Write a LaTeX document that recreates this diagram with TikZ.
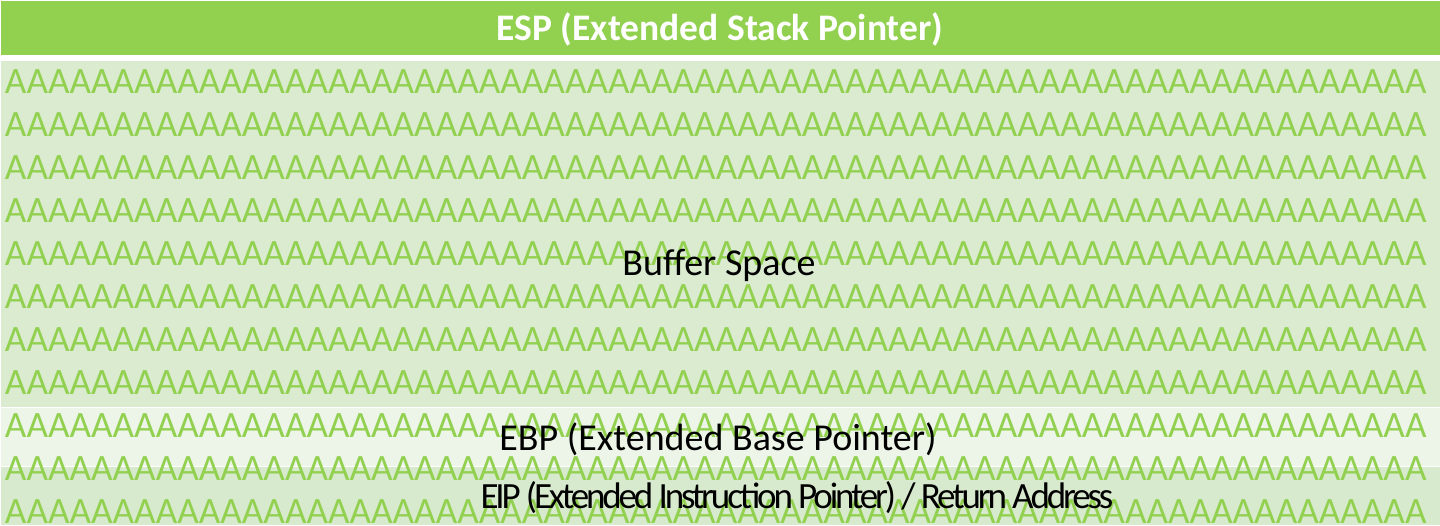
\documentclass[tikz,border=0pt]{standalone}
\usepackage{fontspec}
\setmainfont{Carlito}
\newfontfamily\tightfont[LetterSpace=-8.5]{Carlito}
\usetikzlibrary{positioning}
\definecolor{espGreen}{HTML}{92D050}
\definecolor{bufferFill}{HTML}{DAEBD0}
\definecolor{ebpFill}{HTML}{EDF5E8}
\definecolor{eipFill}{HTML}{D8EACD}
\definecolor{fillA}{HTML}{92D050}
\newcommand{\fillrow}{%
  AAAAAAAAAAAAAAAAAAAAAAAAAAAAAAAAAAAAAAAAAAAAAAAAAAAAAAAAAAAAAAAAAA}

\begin{document}
\begin{tikzpicture}[x=1pt,y=-1pt,
    every node/.style={inner sep=0pt,outer sep=0pt},
    rowtext/.style={anchor=base west,text=fillA,
                    font=\fontsize{37.2pt}{37.2pt}\selectfont},
    stacklabel/.style={anchor=base,text=black,
                       font=\fontsize{38pt}{38pt}\selectfont}]
  \useasboundingbox (0,0) rectangle (1440,525);
  % bands of the stack
  \fill[espGreen]   (1,1)   rectangle (1440,55);
  \fill[bufferFill] (1,61)  rectangle (1440,407);
  \fill[ebpFill]    (1,408) rectangle (1440,466);
  \fill[eipFill]    (1,467) rectangle (1440,525);
  % overflowing input
  \foreach \r in {0,...,10}
    \node[rowtext] (row\r) at (5,93+43*\r) {\fillrow};
  % register labels
  \node[anchor=base,text=white,
        font=\fontsize{37.5pt}{37.5pt}\selectfont\bfseries]
        (esp) at (720,40) {ESP (Extended Stack Pointer)};
  \node[stacklabel] (buffer) at (719,275) {Buffer Space};
  \node[stacklabel] (ebp) at (718,450) {EBP (Extended Base Pointer)};
  \node[stacklabel,font=\tightfont\fontsize{37pt}{37pt}\selectfont]
        (eip) at (797,508)
        {EIP (Extended Instruction Pointer) / Return Address};
\end{tikzpicture}
\end{document}
